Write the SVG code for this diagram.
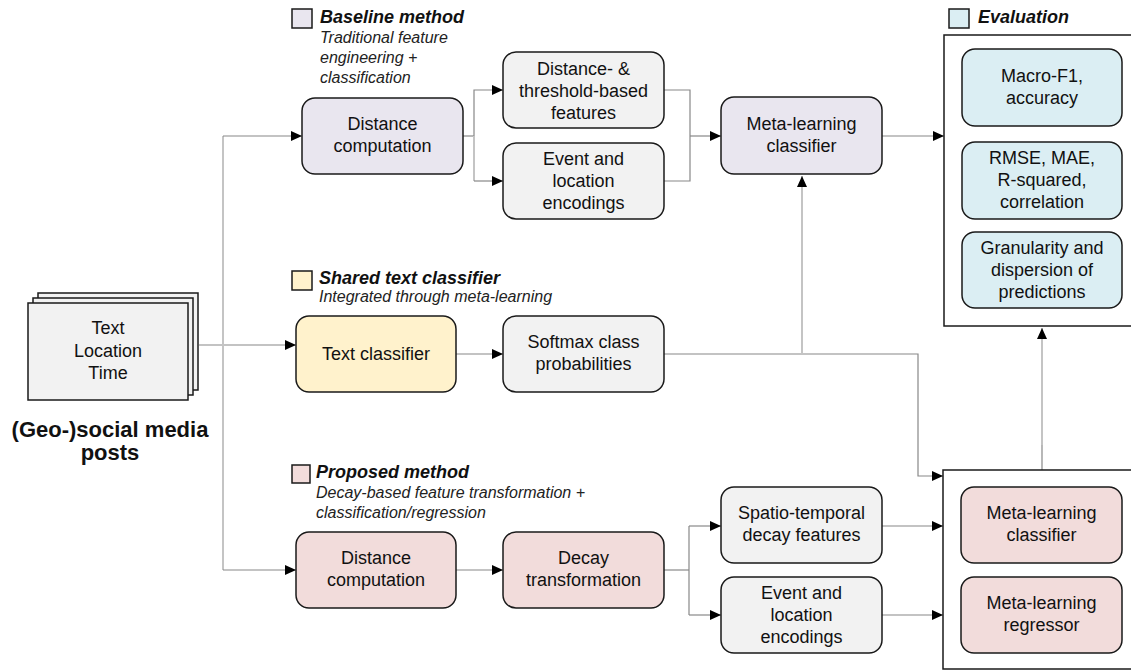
<svg xmlns="http://www.w3.org/2000/svg" width="1131" height="670" viewBox="0 0 1131 670">
<defs>
<marker id="ah" markerWidth="12" markerHeight="10" refX="11" refY="5" orient="auto" markerUnits="userSpaceOnUse"><path d="M0,0 L11,5 L0,10 z" fill="#000"/></marker>
<style>
.n{stroke:#1a1a1a;stroke-width:1.5}
.g{fill:#f2f2f2}.p{fill:#e9e6ef}.y{fill:#fff2cc}.k{fill:#f2dcdb}.b{fill:#dbeef3}
.t{font-family:"Liberation Sans",Arial,sans-serif;font-size:18px;fill:#111;text-anchor:middle}
.h{font-family:"Liberation Sans",Arial,sans-serif;font-size:18px;font-weight:bold;font-style:italic;fill:#111}
.s{font-family:"Liberation Sans",Arial,sans-serif;font-size:16px;font-style:italic;fill:#222}
.c{fill:none;stroke:#888;stroke-width:1.2}
.l{fill:none;stroke:#c4c4c4;stroke-width:2}
</style>
</defs>
<rect width="1131" height="670" fill="#fff"/>

<g id="connectors">
<path class="c" d="M199,345 H296" marker-end="url(#ah)"/>
<path class="l" d="M223,136 V570"/>
<path class="c" d="M223,136 H302" marker-end="url(#ah)"/>
<path class="c" d="M223,570 H296" marker-end="url(#ah)"/>
<path class="c" d="M463,136 H474"/>
<path class="c" d="M474,136 V90 H503" marker-end="url(#ah)"/>
<path class="l" d="M474,136 V181"/>
<path class="c" d="M474,181 H503" marker-end="url(#ah)"/>
<path class="c" d="M664,90 H690 V181 H664"/>
<path class="c" d="M690,136 H721" marker-end="url(#ah)"/>
<path class="c" d="M882,136 H944" marker-end="url(#ah)"/>
<path class="c" d="M456,354 H503" marker-end="url(#ah)"/>
<path class="c" d="M664,354 H918 V476 H943" marker-end="url(#ah)"/>
<path class="l" d="M802,354 V176" marker-end="url(#ah)"/>
<path class="c" d="M456,570 H503" marker-end="url(#ah)"/>
<path class="c" d="M664,570 H689"/>
<path class="c" d="M689,526 V615"/>
<path class="c" d="M689,526 H721" marker-end="url(#ah)"/>
<path class="c" d="M689,615 H721" marker-end="url(#ah)"/>
<path class="c" d="M882,526 H943" marker-end="url(#ah)"/>
<path class="c" d="M882,615 H943" marker-end="url(#ah)"/>
<path class="c" d="M1042,470 V445"/>
<path class="l" d="M1042,445 V328" marker-end="url(#ah)"/>
</g>

<g id="posts">
<rect x="38" y="293" width="160" height="97" class="n g" stroke-width="1.2"/>
<rect x="33" y="298" width="160" height="97" class="n g" stroke-width="1.2"/>
<rect x="28" y="303" width="160" height="97" class="n g" stroke-width="1.2"/>
<text class="t" x="108" y="334">Text</text>
<text class="t" x="108" y="357">Location</text>
<text class="t" x="108" y="379">Time</text>
<text x="110" y="437" font-family="Liberation Sans,Arial,sans-serif" font-size="22" font-weight="bold" text-anchor="middle" fill="#111">(Geo-)social media</text>
<text x="110" y="460" font-family="Liberation Sans,Arial,sans-serif" font-size="22" font-weight="bold" text-anchor="middle" fill="#111">posts</text>
</g>

<g id="legend-baseline">
<rect x="292" y="9" width="20" height="19" class="n p" stroke-width="1.2"/>
<text class="h" x="320" y="23">Baseline method</text>
<text class="s" x="320" y="43">Traditional feature</text>
<text class="s" x="320" y="63">engineering +</text>
<text class="s" x="320" y="83">classification</text>
</g>
<g id="baseline-distance">
<rect x="302" y="98" width="161" height="76" rx="13" class="n p"/>
<text class="t" x="382.5" y="130">Distance</text>
<text class="t" x="382.5" y="152">computation</text>
</g>
<g id="baseline-features">
<rect x="503" y="52" width="161" height="76" rx="13" class="n g"/>
<text class="t" x="583.5" y="75">Distance- &amp;</text>
<text class="t" x="583.5" y="97">threshold-based</text>
<text class="t" x="583.5" y="119">features</text>
</g>
<g id="baseline-encodings">
<rect x="503" y="143" width="161" height="76" rx="13" class="n g"/>
<text class="t" x="583.5" y="165">Event and</text>
<text class="t" x="583.5" y="187">location</text>
<text class="t" x="583.5" y="209">encodings</text>
</g>
<g id="baseline-meta">
<rect x="721" y="97" width="161" height="77" rx="13" class="n p"/>
<text class="t" x="801.5" y="130">Meta-learning</text>
<text class="t" x="801.5" y="152">classifier</text>
</g>

<g id="evaluation">
<rect x="949" y="9" width="20" height="19" class="n b" stroke-width="1.2"/>
<text class="h" x="978" y="23">Evaluation</text>
<rect x="944" y="35" width="200" height="291" fill="#fff" stroke="#1a1a1a" stroke-width="1.5"/>
</g>
<g id="eval-f1">
<rect x="962" y="49" width="160" height="77" rx="13" class="n b"/>
<text class="t" x="1042" y="82">Macro-F1,</text>
<text class="t" x="1042" y="104">accuracy</text>
</g>
<g id="eval-rmse">
<rect x="962" y="142" width="160" height="77" rx="13" class="n b"/>
<text class="t" x="1042" y="164">RMSE, MAE,</text>
<text class="t" x="1042" y="186">R-squared,</text>
<text class="t" x="1042" y="208">correlation</text>
</g>
<g id="eval-granularity">
<rect x="962" y="232" width="160" height="76" rx="13" class="n b"/>
<text class="t" x="1042" y="254">Granularity and</text>
<text class="t" x="1042" y="276">dispersion of</text>
<text class="t" x="1042" y="298">predictions</text>
</g>

<g id="legend-shared">
<rect x="292" y="271" width="20" height="19" class="n y" stroke-width="1.2"/>
<text class="h" x="319" y="284">Shared text classifier</text>
<text class="s" x="319" y="302">Integrated through meta-learning</text>
</g>
<g id="text-classifier">
<rect x="296" y="316" width="160" height="76" rx="13" class="n y"/>
<text class="t" x="376" y="360">Text classifier</text>
</g>
<g id="softmax">
<rect x="503" y="316" width="161" height="76" rx="13" class="n g"/>
<text class="t" x="583.5" y="348">Softmax class</text>
<text class="t" x="583.5" y="370">probabilities</text>
</g>

<g id="legend-proposed">
<rect x="292" y="465" width="18" height="18" class="n k" stroke-width="1.2"/>
<text class="h" x="316" y="478">Proposed method</text>
<text class="s" x="316" y="498">Decay-based feature transformation +</text>
<text class="s" x="316" y="518">classification/regression</text>
</g>
<g id="proposed-distance">
<rect x="296" y="532" width="160" height="76" rx="13" class="n k"/>
<text class="t" x="376" y="564">Distance</text>
<text class="t" x="376" y="586">computation</text>
</g>
<g id="decay">
<rect x="503" y="532" width="161" height="76" rx="13" class="n k"/>
<text class="t" x="583.5" y="564">Decay</text>
<text class="t" x="583.5" y="586">transformation</text>
</g>
<g id="st-features">
<rect x="721" y="487" width="161" height="76" rx="13" class="n g"/>
<text class="t" x="801.5" y="519">Spatio-temporal</text>
<text class="t" x="801.5" y="541">decay features</text>
</g>
<g id="proposed-encodings">
<rect x="721" y="577" width="161" height="76" rx="13" class="n g"/>
<text class="t" x="801.5" y="599">Event and</text>
<text class="t" x="801.5" y="621">location</text>
<text class="t" x="801.5" y="643">encodings</text>
</g>
<g id="proposed-container">
<rect x="943" y="470" width="200" height="199" fill="#fff" stroke="#1a1a1a" stroke-width="1.5"/>
</g>
<g id="meta-classifier">
<rect x="961" y="487" width="161" height="76" rx="13" class="n k"/>
<text class="t" x="1041.5" y="519">Meta-learning</text>
<text class="t" x="1041.5" y="541">classifier</text>
</g>
<g id="meta-regressor">
<rect x="961" y="577" width="161" height="76" rx="13" class="n k"/>
<text class="t" x="1041.5" y="609">Meta-learning</text>
<text class="t" x="1041.5" y="631">regressor</text>
</g>
</svg>
